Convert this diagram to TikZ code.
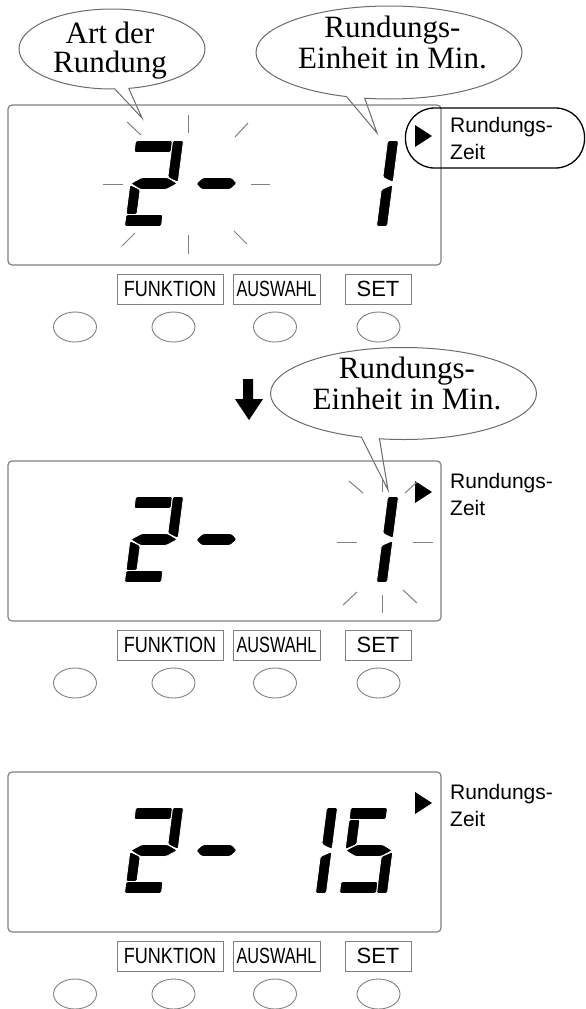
\documentclass[tikz,border=0pt]{standalone}
\usepackage{fontspec}
\usepackage{graphicx}
\setmainfont{Liberation Serif}
\newfontfamily\arial{Liberation Sans}
\usetikzlibrary{shapes.geometric,calc}
\definecolor{lgray}{gray}{0.5}
\definecolor{bgray}{gray}{0.42}
% seven segment pieces (local frame: left edge x=0, vertical centre y=0, y down)
\newcommand\sgA{\path[seg] (0,-43) -- (37,-43) -- (37,-31) -- (0,-31) -- cycle;}
\newcommand\sgB{\path[seg] (37,-43) -- (48,-43) -- (48,-1) -- (37,-6) -- cycle;}
\newcommand\sgC{\path[seg] (37,6) -- (48,1) -- (48,43) -- (37,43) -- cycle;}
\newcommand\sgD{\path[seg] (0,31) -- (37,31) -- (37,43) -- (0,43) -- cycle;}
\newcommand\sgE{\path[seg] (0,1) -- (11,6) -- (11,31) -- (0,31) -- cycle;}
\newcommand\sgF{\path[seg] (0,-31) -- (11,-31) -- (11,-6) -- (0,-1) -- cycle;}
\newcommand\sgG{\path[seg] (0.5,0) -- (11,-6) -- (37,-6) -- (47.5,0) -- (37,6) -- (11,6) -- cycle;}
\newcommand\sgDash{\path[seg] (66,0) -- (72,-6) -- (101,-6) -- (107,0) -- (101,6) -- (72,6) -- cycle;}
\newcommand\digitat[3]{\begin{scope}[shift={(#1,#2)},xslant=0.13]#3\end{scope}}
\newcommand\lcdpanel[2]{%
  \node[panelbox] (panel#2) at (224.5,{#1+80}) {};
  \fill (415,{#1+20}) -- (432,{#1+31}) -- (415,{#1+42}) -- cycle;
  \node[zeit] (zr#2) at (450,{#1+27.5}) {Rundungs-};
  \node[zeit] (zz#2) at (450,{#1+54.5}) {Zeit};
  \node[lbl, minimum width=106pt] (fk#2) at (170,{#1+184}) {\scalebox{0.82}[1]{FUNKTION}};
  \node[lbl, minimum width=87pt] (aw#2) at (276.5,{#1+184}) {\scalebox{0.74}[1]{AUSWAHL}};
  \node[lbl, minimum width=66pt] (st#2) at (378,{#1+184}) {SET};
  \node[btn] (ba#2) at (75,{#1+222}) {};
  \node[btn] (bb#2) at (173.5,{#1+222}) {};
  \node[btn] (bc#2) at (275,{#1+222}) {};
  \node[btn] (bd#2) at (378.5,{#1+222}) {};
}
\begin{document}
\begin{tikzpicture}[x=1pt,y=-1pt,
  seg/.style={fill=black, draw=white, line width=0.9pt, rounded corners=1.5pt},
  panelbox/.style={draw=lgray, line width=1.2pt, rounded corners=4pt, minimum width=433pt, minimum height=160pt, inner sep=0pt, outer sep=0pt},
  lbl/.style={draw=lgray, line width=1pt, minimum height=30pt, inner sep=0pt, outer sep=0pt, font=\arial\fontsize{22}{22}\selectfont},
  btn/.style={ellipse, draw=lgray, line width=0.9pt, minimum width=43pt, minimum height=30pt, inner sep=0pt, outer sep=0pt},
  ray/.style={draw=lgray, line width=1pt},
  bubble/.style={ellipse, draw=bgray, fill=white, line width=1pt, inner sep=0pt, outer sep=0pt},
  bubtxt/.style={anchor=base, inner sep=0pt, font=\fontsize{31}{31}\selectfont},
  tail/.style={draw=bgray, line width=1pt, line join=miter},
  zeit/.style={anchor=base west, inner sep=0pt, font=\arial\fontsize{21}{21}\selectfont},
  capsule/.style={draw=black, line width=1.3pt, rounded corners=29pt, minimum width=179pt, minimum height=60pt, inner sep=0pt, outer sep=0pt}
]
\useasboundingbox (0,0) rectangle (586,1009);

% ---------- speech bubbles ----------
\node[bubble, minimum width=186pt, minimum height=80pt] (bub1) at (112,49) {};
\coordinate (tip1) at (142,118);
\fill[white] (bub1.-86) -- (tip1) -- (bub1.-67) -- ([yshift=5pt]$(bub1.-86)!0.5!(bub1.-67)$) -- cycle;
\draw[tail] (bub1.-86) -- (tip1) -- (bub1.-67);
\node[bubtxt] (bub1a) at (110,43) {Art der};
\node[bubtxt] (bub1b) at (110,72) {Rundung};

\node[bubble, minimum width=266pt, minimum height=93pt] (bub2) at (389,52.5) {};
\coordinate (tip2) at (377,133);
\fill[white] (bub2.-134) -- (tip2) -- (bub2.-118) -- ([yshift=5pt]$(bub2.-134)!0.5!(bub2.-118)$) -- cycle;
\draw[tail] (bub2.-134) -- (tip2) -- (bub2.-118);
\node[bubtxt] (bub2a) at (392.5,37.5) {Rundungs-};
\node[bubtxt] (bub2b) at (392.5,68) {Einheit in Min.};

\node[bubble, minimum width=266pt, minimum height=92pt] (bub3) at (403.5,393.5) {};
\coordinate (tip3) at (388,490);
\fill[white] (bub3.-134) -- (tip3) -- (bub3.-118) -- ([yshift=5pt]$(bub3.-134)!0.5!(bub3.-118)$) -- cycle;
\draw[tail] (bub3.-134) -- (tip3) -- (bub3.-118);
\node[bubtxt] (bub3a) at (407,378.5) {Rundungs-};
\node[bubtxt] (bub3b) at (407,409) {Einheit in Min.};

% ---------- panels ----------
\lcdpanel{105}{1}
\lcdpanel{461}{2}
\lcdpanel{772}{3}

\node[capsule] (cap1) at (495,138) {};

% ---------- digits ----------
\digitat{130}{183.5}{\sgA\sgB\sgG\sgE\sgD\sgDash}
\digitat{345}{183.5}{\sgB\sgC}
\digitat{130}{539.5}{\sgA\sgB\sgG\sgE\sgD\sgDash}
\digitat{345}{539.5}{\sgB\sgC}
\digitat{130}{850.5}{\sgA\sgB\sgG\sgE\sgD\sgDash}
\digitat{284}{850.5}{\sgB\sgC}
\digitat{345}{850.5}{\sgA\sgF\sgG\sgC\sgD}

% ---------- blinking rays ----------
\draw[ray] (188,115) -- (188,133);
\draw[ray] (188,235) -- (188,254);
\draw[ray] (103,184) -- (123,184);
\draw[ray] (251,184) -- (270,184);
\draw[ray] (127,122) -- (141,135);
\draw[ray] (235,137) -- (248,123);
\draw[ray] (122,246) -- (135,233);
\draw[ray] (234,231) -- (247,244);

\draw[ray] (382,480) -- (382,492);
\draw[ray] (382,595) -- (382,613);
\draw[ray] (337,542) -- (357,542);
\draw[ray] (413,542) -- (433,542);
\draw[ray] (349,481) -- (363,493);
\draw[ray] (405,493) -- (417,482);
\draw[ray] (343,605) -- (357,592);
\draw[ray] (403,590) -- (417,603);

% ---------- down arrow ----------
\fill (243,379) -- (253,379) -- (253,399) -- (263,399) -- (249,420) -- (235,399) -- (243,399) -- cycle;
\end{tikzpicture}
\end{document}
